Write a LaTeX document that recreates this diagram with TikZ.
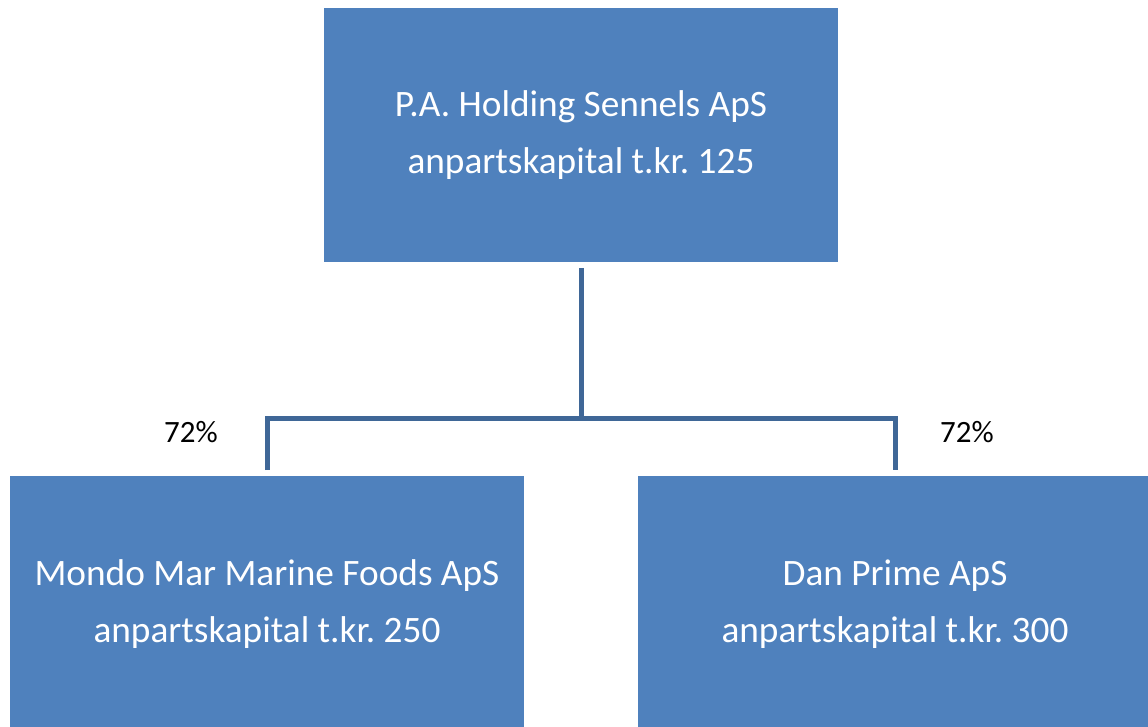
\documentclass[tikz,border=0pt]{standalone}
\usepackage{fontspec}
\setmainfont{Carlito}
\frenchspacing
\definecolor{boxblue}{HTML}{4F81BD}
\definecolor{lineblue}{HTML}{3F6797}
\begin{document}
\begin{tikzpicture}[x=1pt,y=-1pt,
  orgbox/.style={fill=none, draw=none, text=white, align=center,
    font=\fontsize{37.3}{57}\selectfont},
  conn/.style={draw=lineblue, line width=5pt},
  pct/.style={font=\fontsize{31}{36}\selectfont, text=black}]
\useasboundingbox (0,0) rectangle (1148,727);
\fill[boxblue] (324,8) rectangle (838,262);
\node[orgbox] (top) at (581,135) {P.A. Holding Sennels ApS\\anpartskapital t.kr. 125};
\fill[boxblue] (10,476) rectangle (524,727);
\node[orgbox] (left) at (267,604) {Mondo Mar Marine Foods ApS\\anpartskapital t.kr. 250};
\fill[boxblue] (638,476) rectangle (1148,727);
\node[orgbox] (right) at (895,604) {Dan Prime ApS\\anpartskapital t.kr. 300};
\coordinate (ts) at (581,268);
\coordinate (mid) at (581,418);
\coordinate (ls) at (267,470);
\coordinate (rs) at (895,470);
\draw[conn] (ts) -- (mid);
\draw[conn, line join=miter] (ls) -- (ls |- mid) -- (rs |- mid) -- (rs);
\node[pct] (lp) at (191,432) {72\%};
\node[pct] (rp) at (967,432) {72\%};
\end{tikzpicture}
\end{document}
